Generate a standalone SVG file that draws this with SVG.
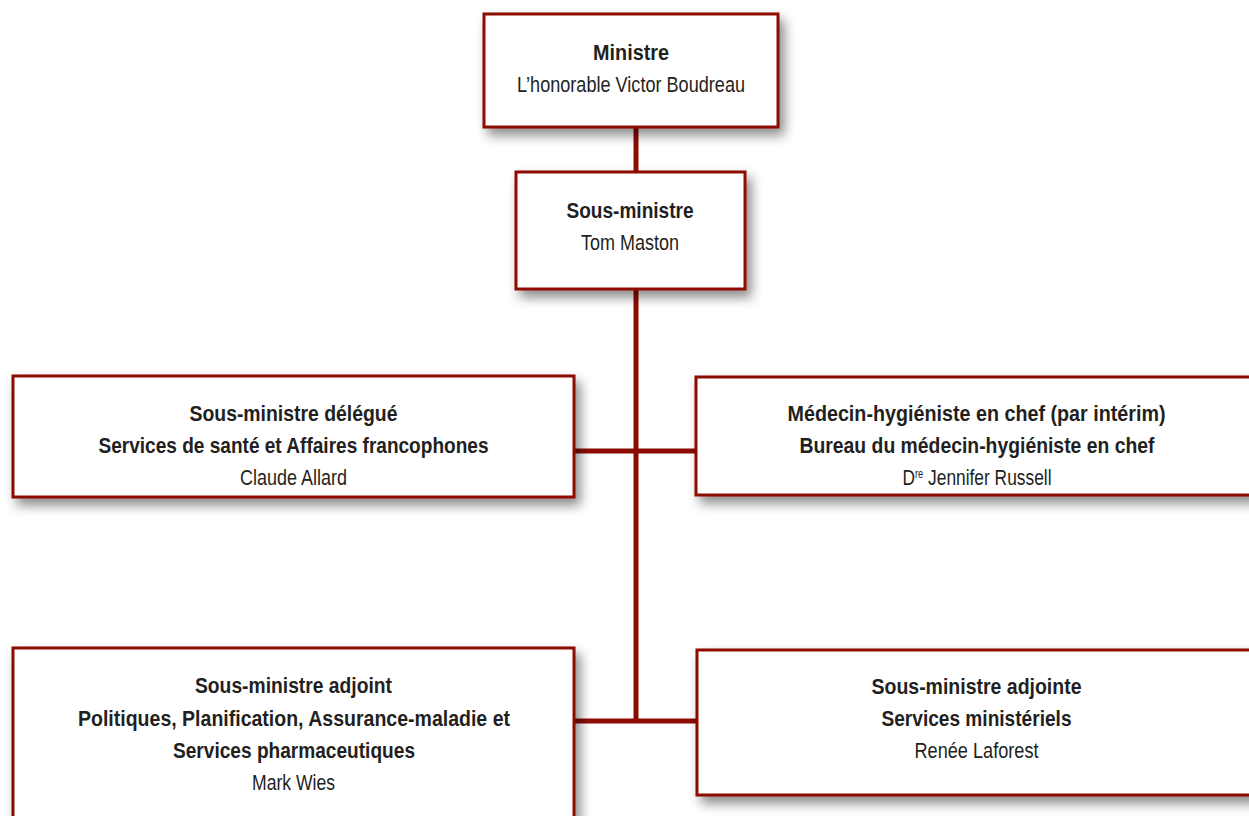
<svg xmlns="http://www.w3.org/2000/svg" width="1249" height="816" viewBox="0 0 1249 816">
<style>
.box{fill:#ffffff;stroke:#8c0c02;stroke-width:3;filter:url(#sh)}
.con{stroke:#8c0c02;stroke-width:5;fill:none}
text{font-family:"Liberation Sans Narrow","Liberation Sans",Arial,sans-serif;font-size:22.5px;fill:#231f20;text-anchor:middle}
.b{font-weight:bold}
.sup{font-size:12px;baseline-shift:7px}
</style>
<defs>
<filter id="sh" x="-10%" y="-20%" width="130%" height="150%">
<feDropShadow dx="5" dy="7" stdDeviation="6" flood-color="#000" flood-opacity="0.45"/>
</filter>
</defs>
<rect width="1249" height="816" fill="#ffffff"/>
<g id="connectors">
<line class="con" x1="636" y1="127" x2="636" y2="172"/>
<line class="con" x1="636" y1="289" x2="636" y2="721"/>
<line class="con" x1="574" y1="451" x2="696" y2="451"/>
<line class="con" x1="574" y1="721" x2="697" y2="721"/>
</g>
<g id="ministre">
<rect class="box" x="484" y="14" width="294" height="113"/>
<text class="b" x="631" y="60" textLength="76" lengthAdjust="spacingAndGlyphs">Ministre</text>
<text x="631" y="92" textLength="228" lengthAdjust="spacingAndGlyphs">L’honorable Victor Boudreau</text>
</g>
<g id="sous-ministre">
<rect class="box" x="516" y="172" width="229" height="117"/>
<text class="b" x="630" y="218" textLength="127" lengthAdjust="spacingAndGlyphs">Sous-ministre</text>
<text x="630" y="250" textLength="98" lengthAdjust="spacingAndGlyphs">Tom Maston</text>
</g>
<g id="sm-delegue">
<rect class="box" x="13" y="376" width="561" height="121"/>
<text class="b" x="293.5" y="421" textLength="208" lengthAdjust="spacingAndGlyphs">Sous-ministre délégué</text>
<text class="b" x="293.5" y="453" textLength="390" lengthAdjust="spacingAndGlyphs">Services de santé et Affaires francophones</text>
<text x="293.5" y="485" textLength="107" lengthAdjust="spacingAndGlyphs">Claude Allard</text>
</g>
<g id="medecin-hygieniste">
<rect class="box" x="696" y="377" width="562" height="118"/>
<text class="b" x="976.5" y="421" textLength="378" lengthAdjust="spacingAndGlyphs">Médecin-hygiéniste en chef (par intérim)</text>
<text class="b" x="977" y="453" textLength="355" lengthAdjust="spacingAndGlyphs">Bureau du médecin-hygiéniste en chef</text>
<text x="977" y="485" textLength="149" lengthAdjust="spacingAndGlyphs">D<tspan class="sup">re</tspan> Jennifer Russell</text>
</g>
<g id="sm-adjoint">
<rect class="box" x="13" y="648" width="561" height="190"/>
<text class="b" x="293.5" y="693" textLength="197" lengthAdjust="spacingAndGlyphs">Sous-ministre adjoint</text>
<text class="b" x="294" y="726" textLength="432" lengthAdjust="spacingAndGlyphs">Politiques, Planification, Assurance-maladie et</text>
<text class="b" x="294" y="758" textLength="242" lengthAdjust="spacingAndGlyphs">Services pharmaceutiques</text>
<text x="293.5" y="790" textLength="83" lengthAdjust="spacingAndGlyphs">Mark Wies</text>
</g>
<g id="sm-adjointe">
<rect class="box" x="697" y="650" width="561" height="145"/>
<text class="b" x="976.5" y="694" textLength="210" lengthAdjust="spacingAndGlyphs">Sous-ministre adjointe</text>
<text class="b" x="976.5" y="726" textLength="190" lengthAdjust="spacingAndGlyphs">Services ministériels</text>
<text x="976.5" y="758" textLength="124" lengthAdjust="spacingAndGlyphs">Renée Laforest</text>
</g>
</svg>
